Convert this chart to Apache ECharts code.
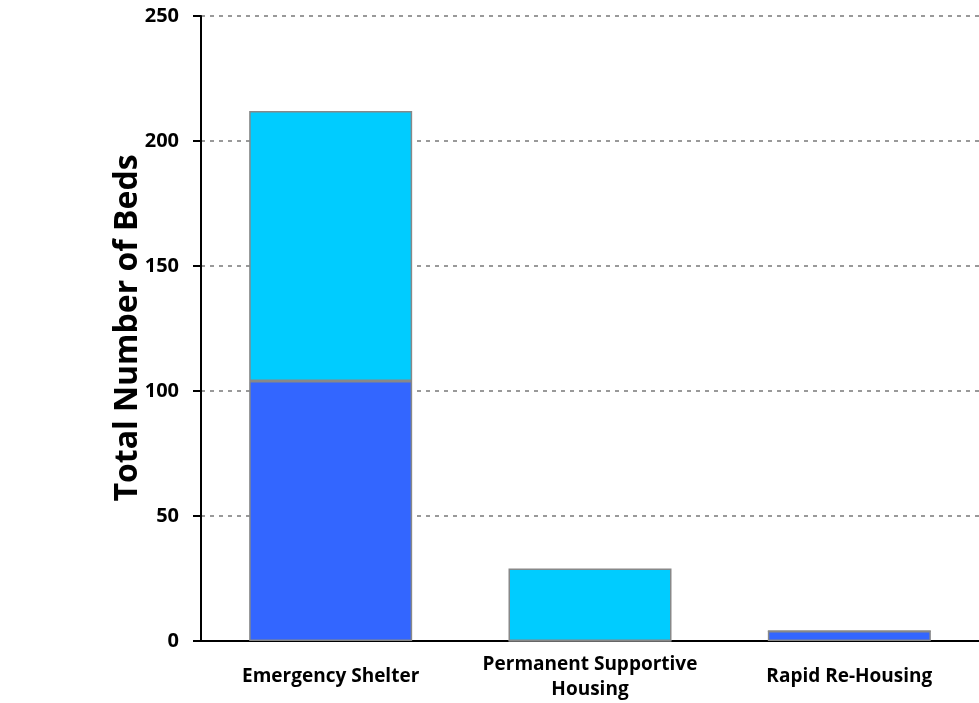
<!DOCTYPE html>
<html>
<head>
<meta charset="utf-8">
<script src="https://cdn.jsdelivr.net/npm/echarts@6/dist/echarts.min.js"></script>
<style>
  html, body { margin: 0; padding: 0; background: #ffffff; }
  #chart { width: 979px; height: 703px; }
</style>
</head>
<body>
<div id="chart"></div>
<script>
// Bed inventory by project type
const categories = ['Emergency Shelter', 'Permanent Supportive\nHousing', 'Rapid Re-Housing'];
const lowerSeries = [104, 0, 4];   // dark blue segment
const upperSeries = [108, 29, 0];  // light blue segment
const yTicks = [0, 50, 100, 150, 200, 250];
const yTitle = 'Total Number of Beds';

const FONT = '"Open Sans", Lato, sans-serif';
const chart = echarts.init(document.getElementById('chart'), null, { renderer: 'canvas' });

const barStyle = (color) => ({
  color: color,
  borderColor: '#888888',
  borderWidth: 1.5
});

chart.setOption({
  animation: false,
  backgroundColor: '#ffffff',
  grid: { left: 201, top: 16, width: 789, height: 625, containLabel: false },
  xAxis: {
    type: 'category',
    data: categories,
    axisLine: { show: true, lineStyle: { color: '#000000', width: 2 } },
    axisTick: { show: false },
    axisLabel: {
      interval: 0,
      margin: 36,
      verticalAlign: 'middle',
      lineHeight: 25,
      color: '#000000',
      fontFamily: FONT,
      fontWeight: 'bold',
      fontSize: 19
    },
    splitLine: { show: false }
  },
  yAxis: {
    type: 'value',
    min: yTicks[0],
    max: yTicks[yTicks.length - 1],
    interval: yTicks[1] - yTicks[0],
    axisLine: { show: true, lineStyle: { color: '#000000', width: 2 } },
    axisTick: { show: true, inside: false, length: 8, lineStyle: { color: '#000000', width: 2 } },
    axisLabel: {
      margin: 22,
      color: '#000000',
      fontFamily: FONT,
      fontWeight: 'bold',
      fontSize: 20
    },
    splitLine: { show: true, lineStyle: { color: '#999999', type: [4, 5], width: 2 } }
  },
  graphic: [{
    type: 'text',
    x: 128,
    y: 328,
    rotation: Math.PI / 2,
    style: {
      text: yTitle,
      fill: '#000000',
      font: 'bold 32px ' + FONT,
      textAlign: 'center',
      textVerticalAlign: 'middle'
    }
  }],
  series: [
    {
      name: 'lower',
      type: 'bar',
      stack: 'beds',
      barWidth: 163,
      data: lowerSeries,
      itemStyle: barStyle('#3366FF')
    },
    {
      name: 'upper',
      type: 'bar',
      stack: 'beds',
      barWidth: 163,
      data: upperSeries,
      itemStyle: barStyle('#00CCFF')
    }
  ]
});
</script>
</body>
</html>
